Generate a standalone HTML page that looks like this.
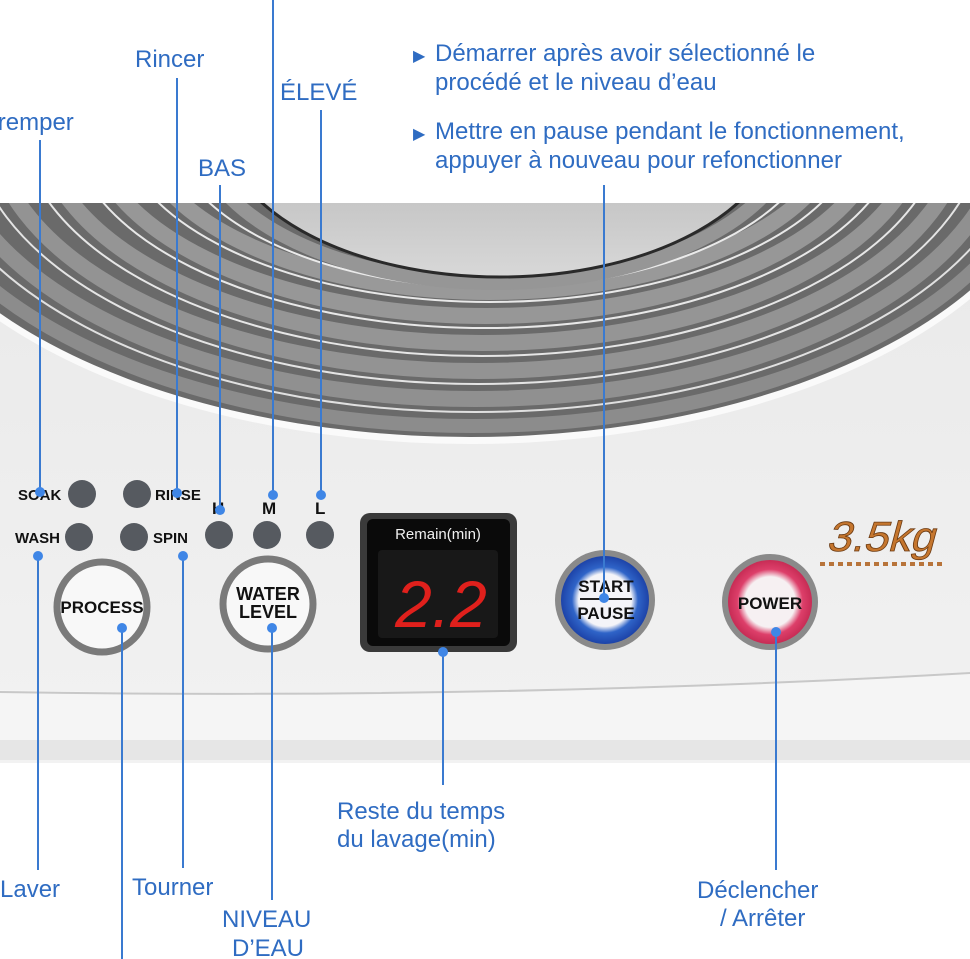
<!DOCTYPE html>
<html><head><meta charset="utf-8"><style>
html,body{margin:0;padding:0;background:#fff;}
body{width:970px;height:959px;position:relative;overflow:hidden;font-family:"Liberation Sans",sans-serif;}
svg{position:absolute;left:0;top:0;}
</style></head><body>
<svg width="970" height="959" viewBox="0 0 970 959" xmlns="http://www.w3.org/2000/svg">
<defs>
<linearGradient id="panel" x1="0" y1="0" x2="0" y2="1">
<stop offset="0" stop-color="#e9e9e9"/><stop offset="1" stop-color="#f2f2f2"/>
</linearGradient>
<linearGradient id="lid" x1="0" y1="0" x2="0" y2="1">
<stop offset="0" stop-color="#8f8f8f"/><stop offset="1" stop-color="#d8d8d8"/>
</linearGradient>
<clipPath id="body"><rect x="0" y="203" width="970" height="560"/></clipPath>
<radialGradient id="blue" cx="0.5" cy="0.5" r="0.5">
<stop offset="0.6" stop-color="#f4f4f8"/><stop offset="0.75" stop-color="#2f64c8"/><stop offset="1" stop-color="#1d43a8"/>
</radialGradient>
<radialGradient id="red" cx="0.5" cy="0.5" r="0.5">
<stop offset="0.6" stop-color="#f6f0f2"/><stop offset="0.78" stop-color="#dd3f6a"/><stop offset="1" stop-color="#c72c55"/>
</radialGradient>
</defs>
<g clip-path="url(#body)">
<rect x="0" y="203" width="970" height="560" fill="url(#panel)"/>
<path d="M0 690 Q500 700 970 672 L970 760 L0 760 Z" fill="#f5f5f5"/>
<path d="M0 692 Q500 700 970 673" stroke="#c8c8c8" stroke-width="2" fill="none"/>
<rect x="0" y="740" width="970" height="20" fill="#e6e6e6"/>
<ellipse cx="470" cy="120" rx="600" ry="324" fill="#fafafa"/>
<ellipse cx="470" cy="120" rx="593" ry="317" fill="#6a6a6a"/>
<g fill="none" stroke-width="2">
<ellipse cx="472" cy="120" rx="575" ry="306" stroke="#8c8c8c" stroke-width="14"/>
<ellipse cx="475" cy="120" rx="552" ry="292" stroke="#e0e0e0"/>
<ellipse cx="475" cy="120" rx="532" ry="279" stroke="#909090" stroke-width="16"/>
<ellipse cx="478" cy="120" rx="507" ry="264" stroke="#e4e4e4"/>
<ellipse cx="478" cy="120" rx="487" ry="251" stroke="#939393" stroke-width="16"/>
<ellipse cx="482" cy="120" rx="462" ry="236" stroke="#e6e6e6"/>
<ellipse cx="482" cy="120" rx="442" ry="223" stroke="#959595" stroke-width="16"/>
<ellipse cx="486" cy="120" rx="417" ry="208" stroke="#e8e8e8"/>
<ellipse cx="486" cy="120" rx="397" ry="196" stroke="#979797" stroke-width="16"/>
<ellipse cx="490" cy="120" rx="372" ry="182" stroke="#e8e8e8"/>
<ellipse cx="490" cy="120" rx="352" ry="172" stroke="#999" stroke-width="16"/>
<ellipse cx="494" cy="120" rx="327" ry="168" stroke="#eaeaea"/>
<ellipse cx="496" cy="120" rx="302" ry="163" stroke="#969696" stroke-width="14"/>
</g>
<ellipse cx="500" cy="120" rx="280" ry="157" fill="url(#lid)"/>
<ellipse cx="500" cy="120" rx="280" ry="157" fill="none" stroke="#2a2a2a" stroke-width="3"/>
</g>
<g fill="#565a60">
<circle cx="82" cy="494" r="14"/><circle cx="137" cy="494" r="14"/>
<circle cx="79" cy="537" r="14"/><circle cx="134" cy="537" r="14"/>
<circle cx="219" cy="535" r="14"/><circle cx="267" cy="535" r="14"/><circle cx="320" cy="535" r="14"/>
</g>
<g font-weight="bold" font-size="15" fill="#111" font-family="Liberation Sans Narrow, Liberation Sans, sans-serif">
<text x="18" y="500">SOAK</text><text x="155" y="500">RINSE</text>
<text x="15" y="543">WASH</text><text x="153" y="543">SPIN</text>
<text x="212" y="514" font-size="17">H</text><text x="262" y="514" font-size="17">M</text><text x="315" y="514" font-size="17">L</text>
</g>
<circle cx="102" cy="607" r="45" fill="#f8f8f8" stroke="#7a7a7a" stroke-width="7"/>
<text x="102" y="613" text-anchor="middle" font-weight="bold" font-size="17" fill="#111" font-family="Liberation Sans Narrow, Liberation Sans, sans-serif">PROCESS</text>
<circle cx="268" cy="604" r="45" fill="#f8f8f8" stroke="#7a7a7a" stroke-width="7"/>
<text x="268" y="600" text-anchor="middle" font-weight="bold" font-size="18" fill="#111" font-family="Liberation Sans Narrow, Liberation Sans, sans-serif">WATER</text>
<text x="268" y="618" text-anchor="middle" font-weight="bold" font-size="18" fill="#111" font-family="Liberation Sans Narrow, Liberation Sans, sans-serif">LEVEL</text>
<rect x="360" y="513" width="157" height="139" rx="10" fill="#3a3a3a"/>
<rect x="367" y="519" width="143" height="127" rx="6" fill="#0a0a0a"/>
<rect x="378" y="550" width="120" height="88" rx="4" fill="#181818"/>
<text x="438" y="539" text-anchor="middle" font-size="15" fill="#f0f0f0">Remain(min)</text>
<text x="441" y="627" text-anchor="middle" font-size="66" font-style="italic" fill="#e0201c" font-family="Liberation Sans, sans-serif">2.2</text>
<circle cx="605" cy="600" r="50" fill="#8a8a8a"/>
<circle cx="605" cy="600" r="44" fill="url(#blue)"/>
<text x="606" y="592" text-anchor="middle" font-weight="bold" font-size="17" fill="#111" font-family="Liberation Sans Narrow, Liberation Sans, sans-serif">START</text>
<rect x="580" y="598" width="52" height="2" fill="#222"/>
<text x="606" y="619" text-anchor="middle" font-weight="bold" font-size="17" fill="#111" font-family="Liberation Sans Narrow, Liberation Sans, sans-serif">PAUSE</text>
<circle cx="770" cy="602" r="48" fill="#8a8a8a"/>
<circle cx="770" cy="602" r="42" fill="url(#red)"/>
<text x="770" y="609" text-anchor="middle" font-weight="bold" font-size="17" fill="#111" font-family="Liberation Sans Narrow, Liberation Sans, sans-serif">POWER</text>
<text x="0" y="0" font-size="42" fill="#c5762e" stroke="#6b3a12" stroke-width="0.8" transform="translate(826 551) skewX(-15) scale(1.05 1)" font-family="Liberation Sans Narrow, Liberation Sans, sans-serif">3.5kg</text>
<line x1="820" y1="564" x2="945" y2="564" stroke="#b8743a" stroke-width="4" stroke-dasharray="5 4"/>
<g stroke="#3a7ad0" stroke-width="2" fill="none">
<line x1="40" y1="140" x2="40" y2="492"/>
<line x1="177" y1="78" x2="177" y2="493"/>
<line x1="220" y1="185" x2="220" y2="510"/>
<line x1="273" y1="0" x2="273" y2="495"/>
<line x1="321" y1="110" x2="321" y2="495"/>
<line x1="604" y1="185" x2="604" y2="598"/>
<line x1="38" y1="556" x2="38" y2="870"/>
<line x1="122" y1="628" x2="122" y2="959"/>
<line x1="183" y1="556" x2="183" y2="868"/>
<line x1="272" y1="628" x2="272" y2="900"/>
<line x1="443" y1="652" x2="443" y2="785"/>
<line x1="776" y1="632" x2="776" y2="870"/>
</g>
<g fill="#3f86e6">
<circle cx="40" cy="492" r="5"/><circle cx="177" cy="493" r="5"/><circle cx="220" cy="510" r="5"/>
<circle cx="273" cy="495" r="5"/><circle cx="321" cy="495" r="5"/><circle cx="604" cy="598" r="5"/>
<circle cx="38" cy="556" r="5"/><circle cx="122" cy="628" r="5"/><circle cx="183" cy="556" r="5"/>
<circle cx="272" cy="628" r="5"/><circle cx="443" cy="652" r="5"/><circle cx="776" cy="632" r="5"/>
</g>
<g fill="#2f6cc2" font-size="24">
<text x="-16" y="130">Tremper</text>
<text x="135" y="67">Rincer</text>
<text x="198" y="176">BAS</text>
<text x="280" y="100">ÉLEVÉ</text>
<text x="413" y="61" font-size="16">▶</text>
<text x="435" y="61">Démarrer après avoir sélectionné le</text>
<text x="435" y="90">procédé et le niveau d’eau</text>
<text x="413" y="139" font-size="16">▶</text>
<text x="435" y="139">Mettre en pause pendant le fonctionnement,</text>
<text x="435" y="168">appuyer à nouveau pour refonctionner</text>
<text x="0" y="897">Laver</text>
<text x="132" y="895">Tourner</text>
<text x="222" y="927">NIVEAU</text>
<text x="232" y="956">D’EAU</text>
<text x="337" y="819">Reste du temps</text>
<text x="337" y="847">du lavage(min)</text>
<text x="697" y="898">Déclencher</text>
<text x="720" y="926">/ Arrêter</text>
</g>
</svg>
</body></html>
